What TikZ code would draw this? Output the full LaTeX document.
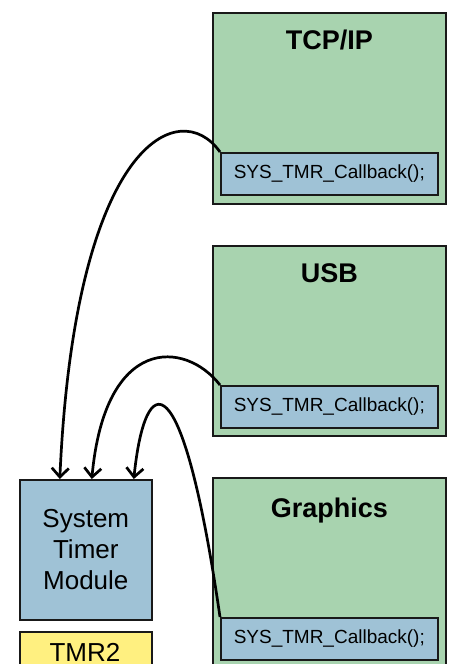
\documentclass[tikz,border=0pt]{standalone}
\usepackage{fontspec}
\setmainfont{Liberation Sans}
\usetikzlibrary{arrows.meta,calc}

\definecolor{modgreen}{RGB}{168,211,175}
\definecolor{cbblue}{RGB}{159,194,214}
\definecolor{tmryellow}{RGB}{255,240,128}
\definecolor{edge}{RGB}{25,25,25}

\tikzset{
  modbox/.style={draw=edge, line width=1.6pt, fill=modgreen, anchor=north west,
    minimum width=233pt, inner sep=0pt},
  cbbox/.style={draw=edge, line width=1.6pt, fill=cbblue, anchor=north west,
    minimum width=217pt, minimum height=42pt, inner sep=0pt,
    font=\fontsize{19}{22}\selectfont},
  modtitle/.style={anchor=base, inner sep=0pt, font=\fontsize{27}{30}\selectfont\bfseries},
  timerbox/.style={draw=edge, line width=1.6pt, fill=cbblue, anchor=north west,
    minimum width=132pt, minimum height=140pt, inner sep=0pt, align=center,
    font=\fontsize{26}{31}\selectfont},
  hwbox/.style={draw=edge, line width=1.6pt, fill=tmryellow, anchor=north west,
    minimum width=132pt, minimum height=70pt, inner sep=0pt},
  callarrow/.style={line width=2.7pt, draw=black,
    -{Straight Barb[length=9pt,width=17pt,line width=2.7pt]}}
}

\begin{document}
\begin{tikzpicture}[x=1pt,y=-1pt]
  \useasboundingbox (0,0) rectangle (448,664);
  \clip (0,0) rectangle (448,664);

  % software modules
  \node[modbox, minimum height=191pt] (tcp) at (212,12) {};
  \node[modtitle] (tcptitle) at ($(tcp.north)+(0,37)$) {TCP/IP};
  \node[cbbox] (tcpcb) at (220,152) {SYS\_TMR\_Callback();};

  \node[modbox, minimum height=190pt] (usb) at (212,245) {};
  \node[modtitle] (usbtitle) at ($(usb.north)+(0,37)$) {USB};
  \node[cbbox] (usbcb) at (220,385) {SYS\_TMR\_Callback();};

  \node[modbox, minimum height=230pt] (gfx) at (212,477) {};
  \node[modtitle] (gfxtitle) at ($(gfx.north)+(0,40)$) {Graphics};
  \node[cbbox] (gfxcb) at (220,617) {SYS\_TMR\_Callback();};

  % system timer service and its hardware timer
  \node[timerbox] (stm) at (19,479) {System\\Timer\\Module};
  \node[hwbox] (tmr) at (19,631) {};
  \node[anchor=base, inner sep=0pt, font=\fontsize{26}{31}\selectfont]
    (tmrlabel) at (85,661) {TMR2};

  % callback registrations
  \draw[callarrow] (tcpcb.north west)
    .. controls (180,95) and (75,140) .. ([xshift=-26pt]stm.north);
  \draw[callarrow] (usbcb.north west)
    .. controls (185,340) and (105,335) .. ([xshift=6pt]stm.north);
  \draw[callarrow] (gfxcb.north west)
    .. controls (182,355) and (145,370) .. ([xshift=48pt]stm.north);
\end{tikzpicture}
\end{document}
